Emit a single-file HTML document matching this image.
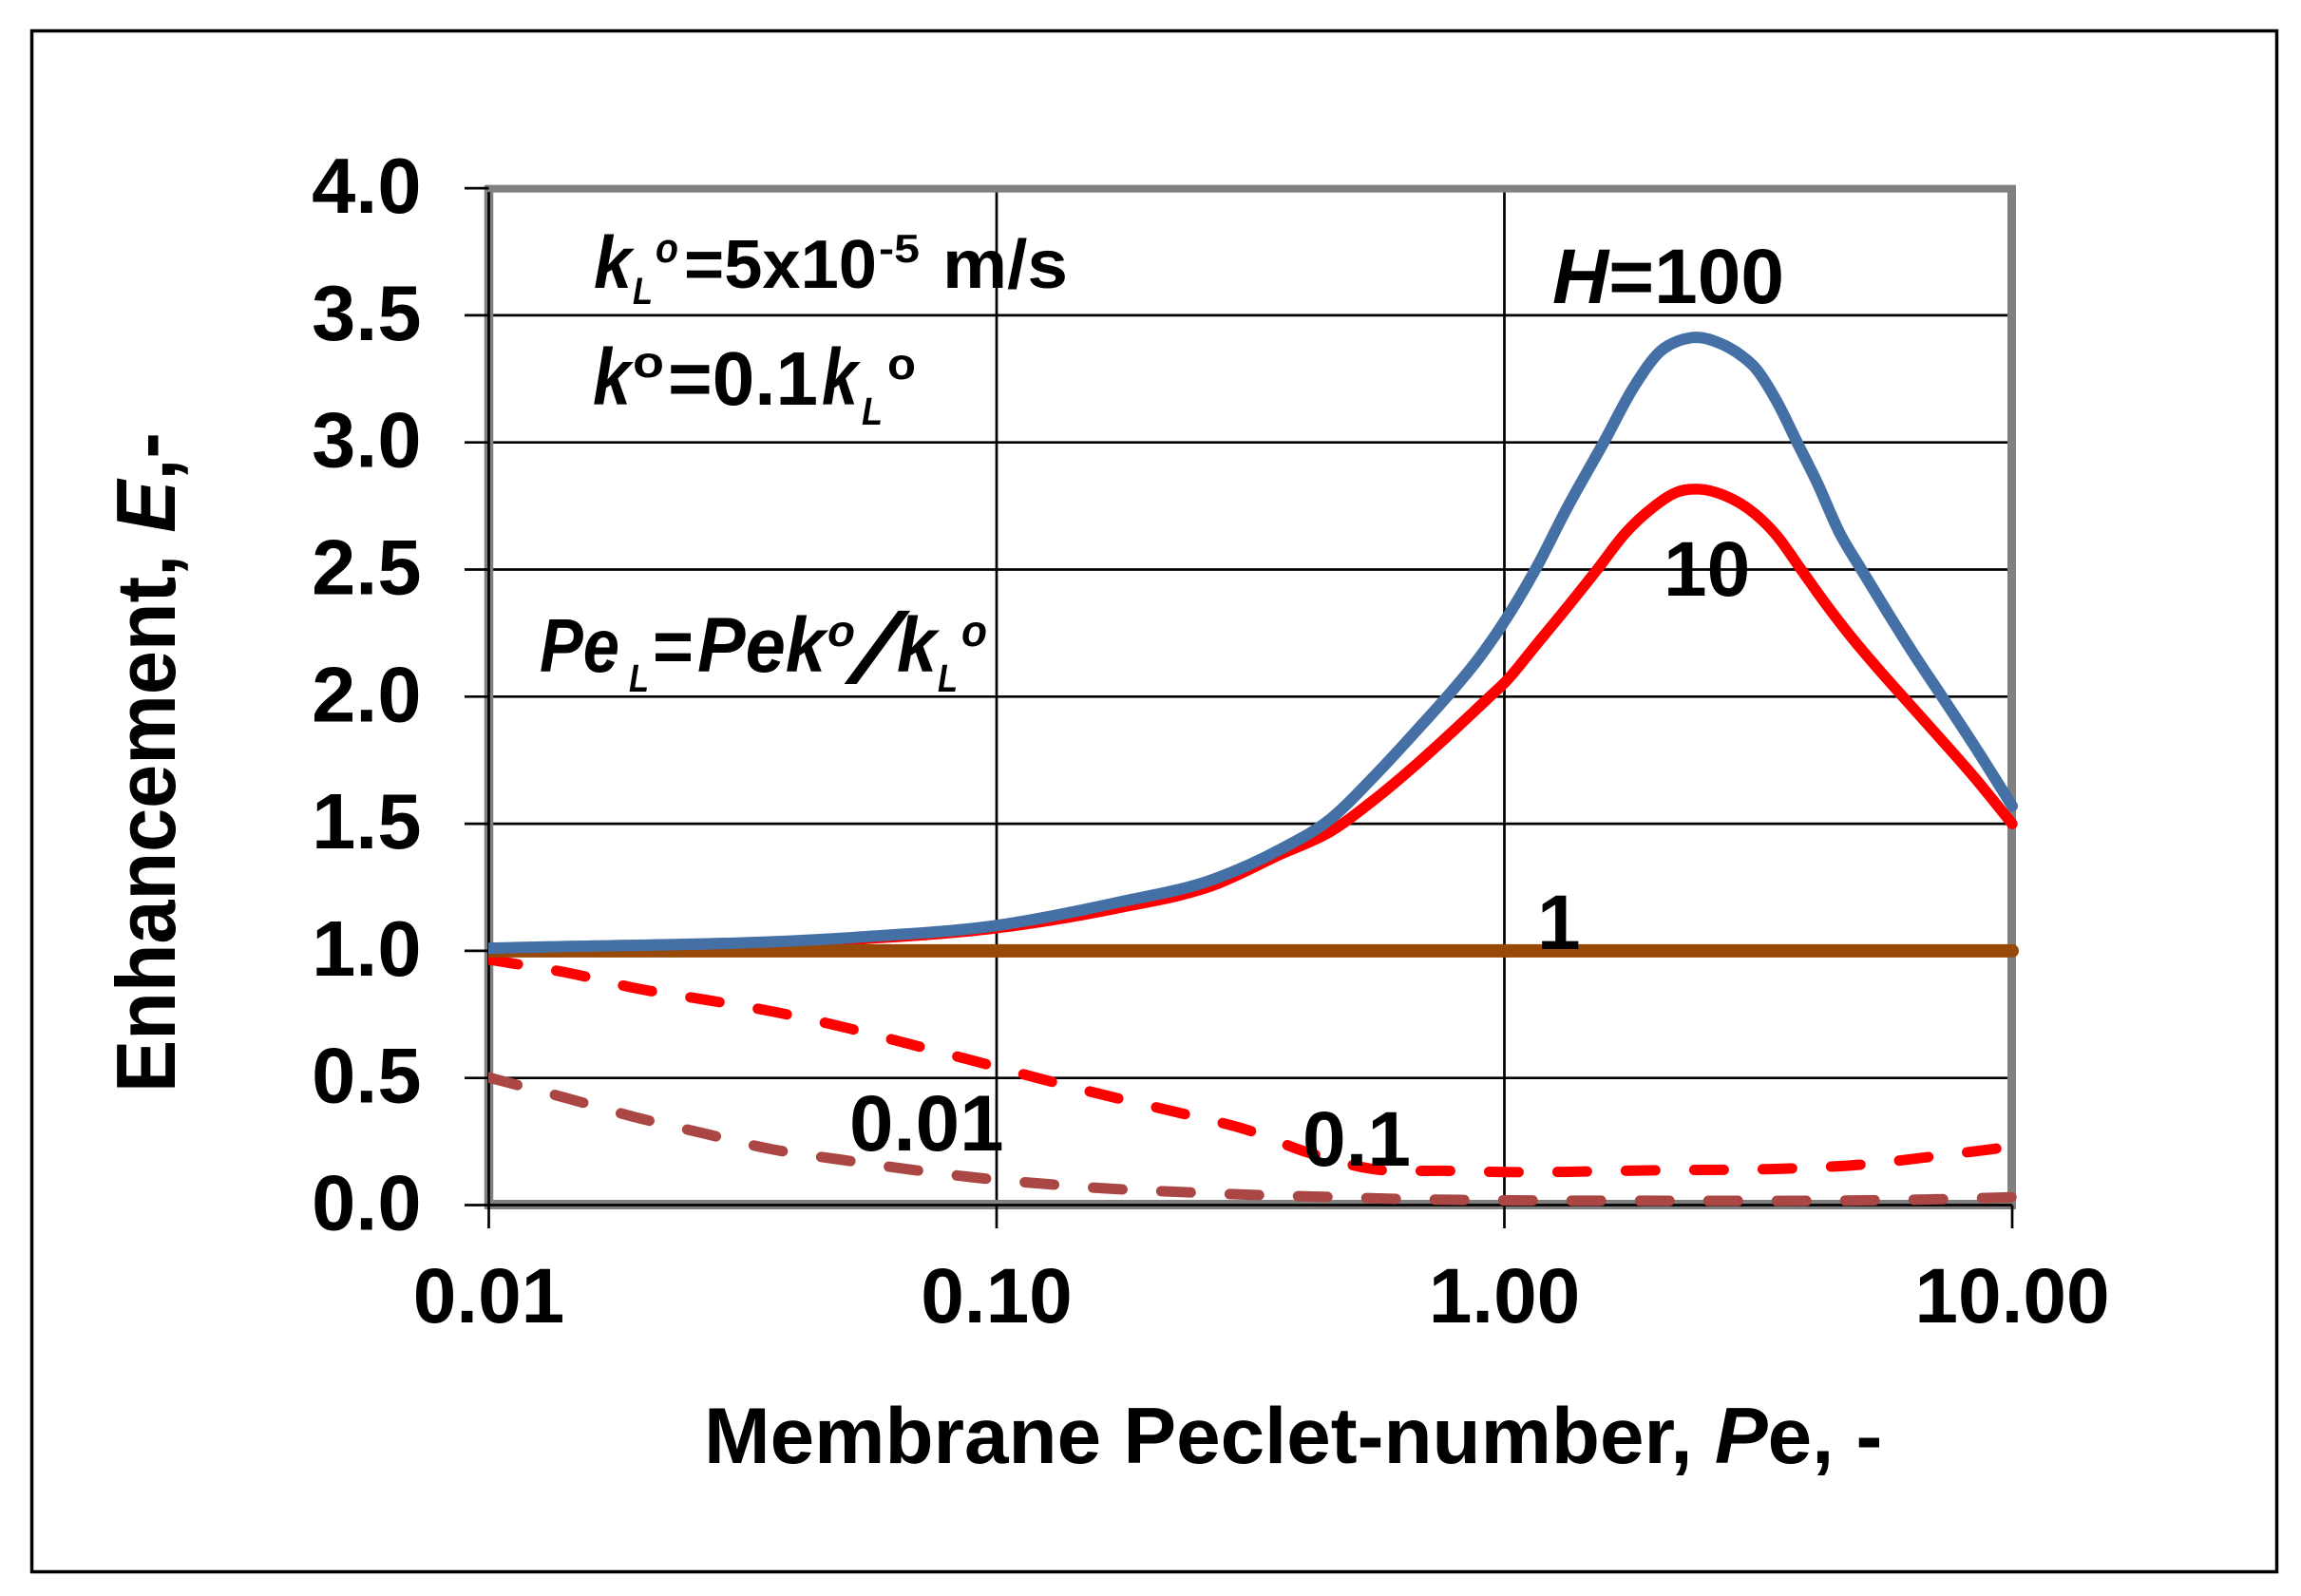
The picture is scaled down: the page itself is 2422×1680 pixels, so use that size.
<!DOCTYPE html>
<html lang="en">
<head>
<meta charset="utf-8">
<title>Enhancement vs Membrane Peclet-number</title>
<style>
html,body{margin:0;padding:0;background:#fff;}
svg{display:block;}
text{font-family:"Liberation Sans",Arial,sans-serif;font-weight:bold;fill:#000;}
.i{font-style:italic;}
</style>
</head>
<body>
<svg id="chart" xmlns="http://www.w3.org/2000/svg" width="2422" height="1680" viewBox="0 0 2422 1680">
  <defs>
    <clipPath id="series-clip"><rect x="514" y="0" width="1908" height="1680"/></clipPath>
  </defs>
  <rect x="0" y="0" width="2422" height="1680" fill="#ffffff"/>
  <rect x="33.5" y="32.5" width="2363" height="1622" fill="#ffffff" stroke="#000" stroke-width="3.5"/>
  <g id="grid"></g>
  <g id="axes"></g>
  <g id="series" clip-path="url(#series-clip)"></g>
  <g id="ticklabels"></g>

  <text x="741" y="1540" font-size="83.6">Membrane Peclet-number, <tspan class="i">P</tspan>e, -</text>
  <text transform="translate(184,1150) rotate(-90)" font-size="88" textLength="695" lengthAdjust="spacingAndGlyphs">Enhancement, <tspan class="i">E</tspan>,-</text>

  <g>
    <text class="i" x="625" y="303" font-size="78" textLength="40" lengthAdjust="spacingAndGlyphs">k</text>
    <text class="i" x="666" y="320" font-size="40" textLength="21" lengthAdjust="spacingAndGlyphs">L</text>
    <text class="i" x="690" y="276" font-size="44" textLength="24" lengthAdjust="spacingAndGlyphs">o</text>
    <text x="720" y="303" font-size="72" textLength="203" lengthAdjust="spacingAndGlyphs">=5x10</text>
    <text x="925" y="276" font-size="42" textLength="43" lengthAdjust="spacingAndGlyphs">-5</text>
    <text x="992" y="303" font-size="72" textLength="132" lengthAdjust="spacingAndGlyphs">m/s</text>
  </g>
  <g>
    <text class="i" x="624" y="426" font-size="84" textLength="40" lengthAdjust="spacingAndGlyphs">k</text>
    <text x="666" y="397" font-size="46" textLength="33" lengthAdjust="spacingAndGlyphs">o</text>
    <text x="703" y="426" font-size="80" textLength="158" lengthAdjust="spacingAndGlyphs">=0.1</text>
    <text class="i" x="865" y="426" font-size="84" textLength="38" lengthAdjust="spacingAndGlyphs">k</text>
    <text class="i" x="907" y="447" font-size="41" textLength="22" lengthAdjust="spacingAndGlyphs">L</text>
    <text x="934" y="399" font-size="46" textLength="30" lengthAdjust="spacingAndGlyphs">o</text>
  </g>
  <g>
    <text class="i" x="568" y="707" font-size="80" textLength="84" lengthAdjust="spacingAndGlyphs">Pe</text>
    <text class="i" x="662" y="728" font-size="41" textLength="21" lengthAdjust="spacingAndGlyphs">L</text>
    <text x="687" y="707" font-size="78" textLength="43" lengthAdjust="spacingAndGlyphs">=</text>
    <text class="i" x="734" y="707" font-size="82" textLength="135" lengthAdjust="spacingAndGlyphs">Pek</text>
    <text class="i" x="871" y="680" font-size="46" textLength="29" lengthAdjust="spacingAndGlyphs">o</text>
    <text class="i" x="898" y="719" font-size="105" style="font-weight:normal" textLength="46" lengthAdjust="spacingAndGlyphs">/</text>
    <text class="i" x="944" y="707" font-size="82" textLength="42" lengthAdjust="spacingAndGlyphs">k</text>
    <text class="i" x="987" y="728" font-size="41" textLength="21" lengthAdjust="spacingAndGlyphs">L</text>
    <text class="i" x="1012" y="680" font-size="46" textLength="27" lengthAdjust="spacingAndGlyphs">o</text>
  </g>

  <g font-size="82">
    <text x="1634" y="319"><tspan class="i">H</tspan>=100</text>
    <text x="1751" y="627">10</text>
    <text x="1618" y="999">1</text>
    <text x="1371" y="1227">0.1</text>
    <text x="894" y="1211" font-size="83.5">0.01</text>
  </g>

<script>
// Chart data
var xTicks = [0.01, 0.1, 1, 10];
var xTickLabels = ["0.01", "0.10", "1.00", "10.00"];
var yTicks = [0, 0.5, 1, 1.5, 2, 2.5, 3, 3.5, 4];
var yTickLabels = ["0.0", "0.5", "1.0", "1.5", "2.0", "2.5", "3.0", "3.5", "4.0"];

var peH100 = [0.01, 0.0527, 0.1, 0.1726, 0.2696, 0.3626, 0.452, 0.556, 0.681, 0.771, 0.885, 1.007, 1.151, 1.327, 1.569, 1.801, 2.032, 2.206, 2.404, 2.643, 2.931, 3.11, 3.44, 3.771, 4.136, 4.567, 5.043, 5.712, 6.445, 7.27, 8.565, 10];
var eH100 = [1.01, 1.053, 1.10, 1.19, 1.284, 1.40, 1.515, 1.69, 1.88, 2.0, 2.144, 2.305, 2.50, 2.74, 3.0, 3.22, 3.36, 3.40, 3.413, 3.392, 3.341, 3.296, 3.161, 3.0, 2.839, 2.646, 2.501, 2.324, 2.158, 2.001, 1.784, 1.57];

var peH10 = [0.01, 0.0527, 0.1, 0.1726, 0.2696, 0.3626, 0.454, 0.556, 0.681, 0.802, 0.936, 1.007, 1.151, 1.327, 1.523, 1.725, 1.955, 2.206, 2.42, 2.70, 3.11, 3.44, 3.84, 4.30, 4.85, 5.48, 6.09, 7.0, 8.38, 10];
var eH10 = [1.0, 1.045, 1.09, 1.168, 1.261, 1.38, 1.469, 1.597, 1.745, 1.874, 2.0, 2.06, 2.20, 2.35, 2.50, 2.64, 2.742, 2.807, 2.816, 2.793, 2.72, 2.633, 2.50, 2.363, 2.228, 2.103, 2.0, 1.865, 1.688, 1.50];

var peH1 = [0.01, 10];
var eH1 = [1.0, 1.0];

var peH01 = [0.01, 0.0146, 0.0197, 0.027, 0.0365, 0.05, 0.0675, 0.098, 0.123, 0.169, 0.23, 0.31, 0.41, 0.56, 0.76, 1, 2, 3.75, 5.1, 6.9, 10];
var eH01 = [0.966, 0.91, 0.851, 0.806, 0.76, 0.70, 0.633, 0.548, 0.495, 0.425, 0.362, 0.297, 0.207, 0.14, 0.135, 0.13, 0.137, 0.145, 0.16, 0.19, 0.23];

var peH001 = [0.01, 0.0144, 0.0194, 0.0265, 0.036, 0.05, 0.0675, 0.092, 0.125, 0.172, 0.24, 0.33, 0.45, 0.62, 0.85, 1.17, 2.2, 4, 7.6, 10];
var eH001 = [0.502, 0.418, 0.346, 0.282, 0.22, 0.177, 0.14, 0.107, 0.083, 0.063, 0.05, 0.039, 0.032, 0.024, 0.02, 0.018, 0.017, 0.017, 0.024, 0.031];

var NS = 'http://www.w3.org/2000/svg';
function xScale(p) { return 514.5 + 534.5 * (Math.log10(p) + 2); }
function yScale(e) { return 1268.5 - 267.6 * e; }

function makeLine(x1, y1, x2, y2, color, width) {
  var l = document.createElementNS(NS, 'line');
  l.setAttribute('x1', x1);
  l.setAttribute('y1', y1);
  l.setAttribute('x2', x2);
  l.setAttribute('y2', y2);
  l.setAttribute('stroke', color);
  l.setAttribute('stroke-width', width);
  return l;
}

function smoothPath(xs, ys) {
  var px = xs.map(xScale), py = ys.map(yScale), n = px.length;
  var h = [], s = [], m = [], i;
  for (i = 0; i < n - 1; i++) {
    h[i] = px[i + 1] - px[i];
    s[i] = (py[i + 1] - py[i]) / h[i];
  }
  m[0] = s[0];
  m[n - 1] = s[n - 2];
  for (i = 1; i < n - 1; i++) {
    m[i] = (h[i - 1] * s[i] + h[i] * s[i - 1]) / (h[i - 1] + h[i]);
  }
  var d = 'M' + px[0].toFixed(2) + ' ' + py[0].toFixed(2);
  for (i = 0; i < n - 1; i++) {
    d += 'C' + (px[i] + h[i] / 3).toFixed(2) + ' ' + (py[i] + m[i] * h[i] / 3).toFixed(2) +
         ' ' + (px[i + 1] - h[i] / 3).toFixed(2) + ' ' + (py[i + 1] - m[i + 1] * h[i] / 3).toFixed(2) +
         ' ' + px[i + 1].toFixed(2) + ' ' + py[i + 1].toFixed(2);
  }
  return d;
}

function makeSeries(xs, ys, color, width, dash) {
  var path = document.createElementNS(NS, 'path');
  path.setAttribute('d', smoothPath(xs, ys));
  path.setAttribute('fill', 'none');
  path.setAttribute('stroke', color);
  path.setAttribute('stroke-width', width);
  path.setAttribute('stroke-linecap', 'round');
  path.setAttribute('stroke-linejoin', 'round');
  if (dash) path.setAttribute('stroke-dasharray', dash);
  return path;
}

var gridG = document.getElementById('grid');
var axesG = document.getElementById('axes');
var seriesG = document.getElementById('series');
var labelG = document.getElementById('ticklabels');
var x0 = xScale(xTicks[0]), x1 = xScale(xTicks[xTicks.length - 1]);
var y0 = yScale(yTicks[0]), y1 = yScale(yTicks[yTicks.length - 1]);

var borderTop = makeLine(x0 - 4, y1 + 0.5, x1 + 4, y1 + 0.5, '#808080', 8);


axesG.appendChild(borderTop);

var borderRight = makeLine(x1 - 0.5, y1 - 3, x1 - 0.5, y0 + 4, '#808080', 9);


axesG.appendChild(borderRight);

var borderBottom = makeLine(x0 - 4, y0 - 0.5, x1 + 4, y0 - 0.5, '#808080', 10);


axesG.appendChild(borderBottom);

var borderLeft = makeLine(x0, y1 - 3, x0, y0 + 4, '#808080', 9.5);


axesG.appendChild(borderLeft);

var axisLineX = makeLine(x0, y0, x1, y0, '#000', 2.7);


axesG.appendChild(axisLineX);

var axisLineY = makeLine(x0, y1 + 4, x0, y0, '#000', 2.7);


axesG.appendChild(axisLineY);

yTicks.forEach(function (v, i) {
  var y = yScale(v);
  if (i > 0 && i < yTicks.length - 1) {
    var g = makeLine(x0, y, x1 - 4, y, '#000', 2.7);
    
    
    gridG.appendChild(g);
  }
  var t = makeLine(489, y, x0, y, '#000', 2.7);
  
  
  axesG.appendChild(t);
  var lab = document.createElementNS(NS, 'text');
  lab.setAttribute('x', 443.5);
  lab.setAttribute('y', y + 26);
  lab.setAttribute('text-anchor', 'end');
  lab.setAttribute('font-size', '83');
  lab.textContent = yTickLabels[i];
  
  
  labelG.appendChild(lab);
});

xTicks.forEach(function (v, i) {
  var x = xScale(v);
  if (i > 0 && i < xTicks.length - 1) {
    var g = makeLine(x, y1 + 4, x, y0, '#000', 2.7);
    
    
    gridG.appendChild(g);
  }
  var t = makeLine(x, y0, x, 1293, '#000', 2.7);
  
  
  axesG.appendChild(t);
  var lab = document.createElementNS(NS, 'text');
  lab.setAttribute('x', x);
  lab.setAttribute('y', 1392);
  lab.setAttribute('text-anchor', 'middle');
  lab.setAttribute('font-size', '82');
  lab.textContent = xTickLabels[i];
  
  
  labelG.appendChild(lab);
});

var lineH001 = makeSeries(peH001, eH001, '#AA4643', 11, '31 41');


seriesG.appendChild(lineH001);

var lineH01 = makeSeries(peH01, eH01, '#FF0000', 11, '31 41');


seriesG.appendChild(lineH01);

var lineH10 = makeSeries(peH10, eH10, '#FF0000', 11.5, null);


seriesG.appendChild(lineH10);

var lineH1 = makeSeries(peH1, eH1, '#984807', 14, null);


seriesG.appendChild(lineH1);

var lineH100 = makeSeries(peH100, eH100, '#4570A5', 12, null);


seriesG.appendChild(lineH100);
</script>
</svg>
</body>
</html>
